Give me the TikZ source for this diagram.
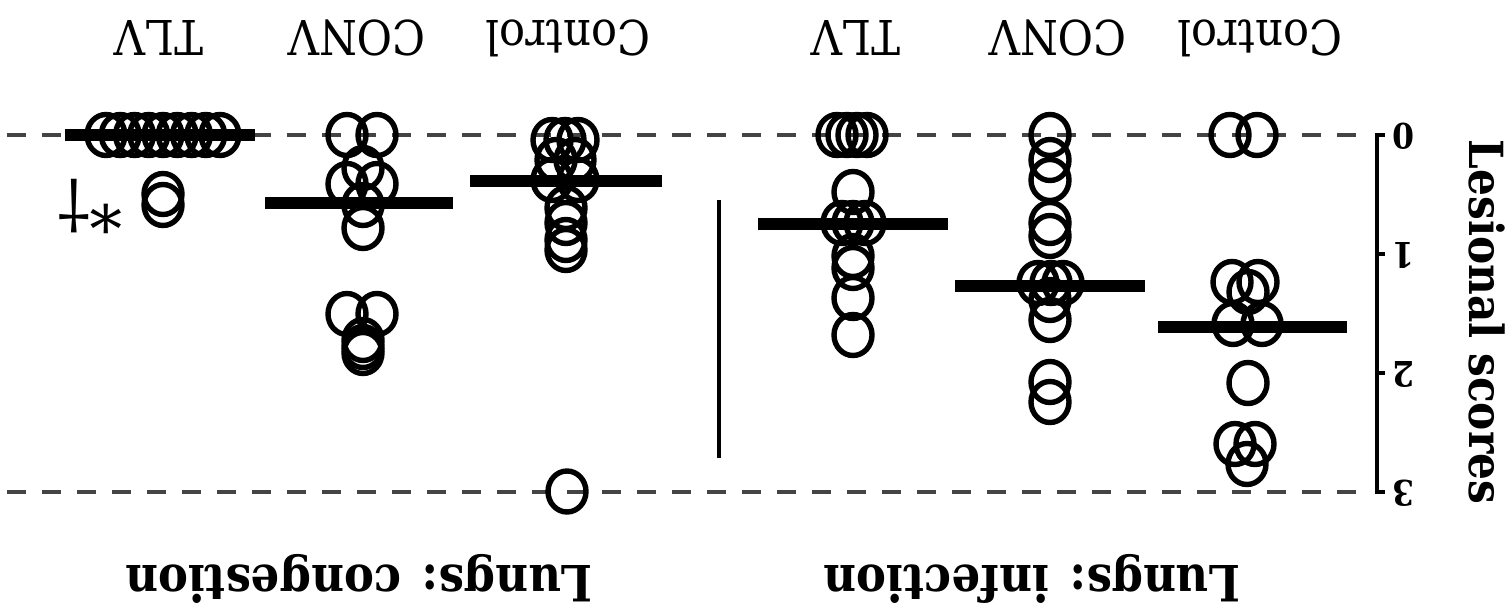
\documentclass[tikz,border=0pt]{standalone}
\usepackage{fontspec}
\usetikzlibrary{shapes.geometric}
\setmainfont{DejaVu Serif Condensed}[Kerning=Off]
\newfontfamily\dvsym{DejaVu Serif}
\begin{document}
\begin{tikzpicture}[x=1pt,y=-1pt,
  dot/.style={draw=black,line width=5.4pt,ellipse,minimum width=38pt,minimum height=41pt,inner sep=0pt},
  median/.style={line width=11.5pt,black},
  refline/.style={line width=4.5pt,draw={rgb,255:red,68;green,68;blue,68},dash pattern=on 19pt off 16pt},
  axisline/.style={line width=3.3pt,black},
  grouplab/.style={rotate=180,anchor=base,font=\fontsize{48}{50}\selectfont},
  panellab/.style={rotate=180,anchor=center,font=\bfseries\fontsize{50}{54}\selectfont},
  ticklab/.style={rotate=180,anchor=center,font=\bfseries\fontsize{35}{38}\selectfont},
]
\useasboundingbox[fill=white] (0,0) rectangle (1512,607);

% reference dashed lines
\draw[refline] (7,135) -- (1356,135);
\draw[refline] (7,492) -- (1356,492);

% separator
\draw[line width=4pt] (719,200) -- (719,458);

% axis
\draw[axisline] (1385,135) -- (1377,135) -- (1377,492) -- (1385,492);
\draw[axisline] (1377,254) -- (1385,254);
\draw[axisline] (1377,373) -- (1385,373);
\node[ticklab] (t0) at (1404,136) {0};
\node[ticklab] (t1) at (1404,255) {1};
\node[ticklab] (t2) at (1404,374) {2};
\node[ticklab] (t3) at (1404,493) {3};
\node[rotate=-90,anchor=center,font=\bfseries\fontsize{47}{50}\selectfont] (ytitle) at (1487,322) {Lesional scores};

% column labels
\node[grouplab] (l1) at (159,21) {TLV};
\node[grouplab] (l2) at (357,21) {CONV};
\node[grouplab] (l3) at (568,21) {Control};
\node[grouplab] (l4) at (856,21) {TLV};
\node[grouplab] (l5) at (1058,21) {CONV};
\node[grouplab] (l6) at (1260,21) {Control};

% panel labels
\node[panellab] (p1) at (359,579) {Lungs: congestion};
\node[panellab] (p2) at (1032,579) {Lungs: infection};

% significance marks
\node[rotate=180,anchor=base,font=\dvsym\fontsize{65}{70}\selectfont,inner sep=0pt] (sig) at (90,185) {*†};

% congestion TLV
\foreach \xx [count=\i] in {106,120.25,134.5,148.75,163,177.25,191.5,205.75,220}
  \node[dot] (ctz\i) at (\xx,135) {};
\node[dot] (ct1) at (163,194) {};
\node[dot] (ct2) at (163,205) {};
\draw[median] (65,135) -- (255,135);

% congestion CONV
\foreach \xx/\yy [count=\i] in {347/135,377/135,363/168,347/184,377/184,363/205,363/228,347/314,377/314,363/340,363/347,363/353}
  \node[dot] (cc\i) at (\xx,\yy) {};
\draw[median] (265,203) -- (453,203);

% congestion Control
\foreach \xx/\yy [count=\i] in {552/140,565/140,578/140,556/160,575/160,552/180,578/180,566/208,566/223,566/240,566/250,567/491.5}
  \node[dot] (cn\i) at (\xx,\yy) {};
\draw[median] (470,181) -- (662,181);

% infection TLV
\foreach \xx/\yy [count=\i] in {837/135,847/135,857/135,867/135,853/192,842/223,853/223,865/223,853/256,853/268,853/298,853/335}
  \node[dot] (it\i) at (\xx,\yy) {};
\draw[median] (758,224) -- (948,224);

% infection CONV
\foreach \xx/\yy [count=\i] in {1050/135,1050/160,1050/180,1050/223,1050/236,1038/283,1051/283,1063/283,1050/300,1050/320,1050/382,1050/402}
  \node[dot] (ic\i) at (\xx,\yy) {};
\draw[median] (955,286) -- (1145,286);

% infection Control
\foreach \xx/\yy [count=\i] in {1230/135,1257/135,1232/282,1258/282,1248/292,1233/324,1262/324,1248/383,1235/444,1255/444,1247/464}
  \node[dot] (in\i) at (\xx,\yy) {};
\draw[median] (1158,327) -- (1347,327);
\end{tikzpicture}
\end{document}
